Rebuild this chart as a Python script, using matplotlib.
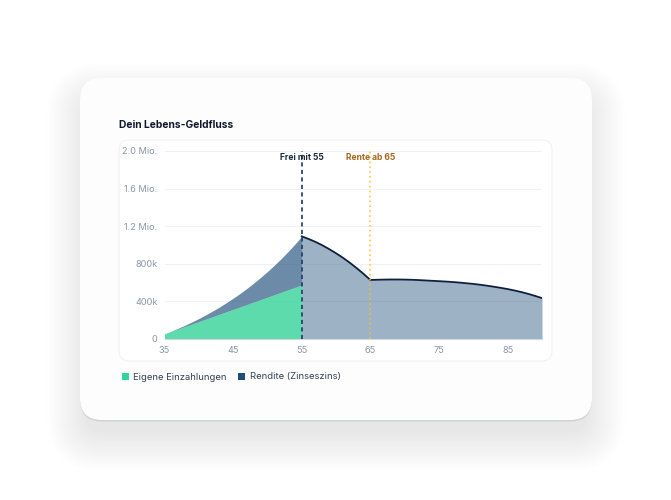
import matplotlib.pyplot as plt
from matplotlib.patches import FancyBboxPatch, Patch

plt.rcParams['font.family'] = ['Inter', 'DejaVu Sans']

# ages 35..90
ages = list(range(35, 91))

# own contributions until financial freedom (35..55), in EUR
einzahlungen = [55000, 81000, 107000, 133000, 159000, 185000, 211000, 237000,
                263000, 289000, 315000, 341000, 367000, 393000, 419000, 445000,
                471000, 497000, 523000, 549000, 575000]

# total wealth (35..90), in EUR
vermoegen = [55000, 84000, 115000, 147000, 182000, 218000, 257000, 297000,
             340000, 386000, 434000, 484000, 538000, 595000, 655000, 718000,
             785000, 855000, 930000, 1009000, 1092000,
             1064000, 1033000, 997000, 956000, 912000, 864000, 811000, 754000,
             693000, 628000,
             630000, 632000, 633000, 633000, 632000, 630000, 627000, 623000,
             619000, 615000, 611000, 606000, 600000, 593000, 586000, 577000,
             567000, 556000, 544000, 531000, 516000, 499000, 480000, 458000,
             435000]

frei_alter = 55
rente_alter = 65
x_ticks = [35, 45, 55, 65, 75, 85]
y_ticks = [0, 400000, 800000, 1200000, 1600000, 2000000]
y_labels = ['0', '400k', '800k', '1.2 Mio.', '1.6 Mio.', '2.0 Mio.']

green = '#34d399'
blue = '#1e4d7b'
navy = '#0f1f3d'
amber = '#fbbf24'

W, H = 671, 500
fig = plt.figure(figsize=(W / 100, H / 100), dpi=100)
fig.patch.set_facecolor('white')

# background canvas in pixel units for the card
bg = fig.add_axes([0, 0, 1, 1])
bg.set_xlim(0, W)
bg.set_ylim(H, 0)
bg.axis('off')

# soft blurred shadow, shifted down
cx0, cy0, cw, ch, r = 80, 78, 512, 342, 22
for i in range(24):
    g = -6 + i * 1.7
    rr = max(r + g, 2)
    bg.add_patch(FancyBboxPatch((cx0 - g + rr, cy0 + 18 - g + rr),
                                cw + 2 * g - 2 * rr, ch + 2 * g - 2 * rr,
                                boxstyle='round,pad=%.1f' % rr, fc='#0f172a',
                                ec='none', alpha=0.0042))
# tight contact shadow
bg.add_patch(FancyBboxPatch((cx0 + r, cy0 + 1.5 + r), cw - 2 * r, ch - 2 * r,
                            boxstyle='round,pad=%d' % r, fc='#64748b',
                            ec='none', alpha=0.18))
# card
bg.add_patch(FancyBboxPatch((cx0 + r, cy0 + r), cw - 2 * r, ch - 2 * r,
                            boxstyle='round,pad=%d' % r, fc='#fdfdfe',
                            ec='none'))
# inner chart panel
bg.add_patch(FancyBboxPatch((119 + 10, 140 + 10), 433 - 20, 221 - 20,
                            boxstyle='round,pad=10', fc='white',
                            ec='#eef2f6', lw=0.8))

bg.text(119, 125, 'Dein Lebens-Geldfluss', fontsize=7.4, fontweight='bold',
        color='#0f172a', va='center', ha='left')

ax = fig.add_axes([164.5 / W, 1 - 339 / H, (542 - 164.5) / W, 188 / H])
ax.patch.set_alpha(0)

n_pre = len(einzahlungen)
ages_pre = ages[:n_pre]
ages_post = ages[n_pre - 1:]
ax.fill_between(ages_pre, 0, einzahlungen, color=green, alpha=0.8, lw=0, zorder=2)
ax.fill_between(ages_pre, einzahlungen, vermoegen[:n_pre], color=blue,
                alpha=0.65, lw=0, zorder=2)
ax.fill_between(ages_post, 0, vermoegen[n_pre - 1:], color=blue, alpha=0.43,
                lw=0, zorder=2)
ax.plot(ages_post, vermoegen[n_pre - 1:], color=navy, lw=1.3, zorder=3)

ax.axvline(frei_alter, color='#1e3a5f', lw=1.2, ls=(0, (2.5, 2)), zorder=4)
ax.axvline(rente_alter, color=amber, lw=1.1, ls=(0, (1, 2.2)), zorder=4)
ax.text(frei_alter, 1.935e6, 'Frei mit 55', fontsize=6.1, fontweight='bold',
        color='#1e293b', ha='center', va='center', zorder=5)
ax.text(rente_alter, 1.935e6, 'Rente ab 65', fontsize=6.1, fontweight='bold',
        color='#a5671b', ha='center', va='center', zorder=5)

ax.set_xlim(35, 90)
ax.set_ylim(0, 2000000)
ax.set_xticks(x_ticks)
ax.set_yticks(y_ticks)
ax.set_yticklabels(y_labels)
ax.tick_params(length=0, labelsize=6.6, colors='#8b95a7', pad=5)
ax.grid(axis='y', color='#eef2f6', lw=0.8, zorder=0)
for s in ['top', 'right', 'left']:
    ax.spines[s].set_visible(False)
ax.spines['bottom'].set_color('#cfd8e3')
ax.spines['bottom'].set_linewidth(0.8)

handles = [Patch(facecolor=green, edgecolor='none', label='Eigene Einzahlungen'),
           Patch(facecolor=blue, edgecolor='none', label='Rendite (Zinseszins)')]
fig.legend(handles=handles, loc='center left',
           bbox_to_anchor=(113 / W, 1 - 377 / H), ncol=2, frameon=False,
           fontsize=6.8, handlelength=0.75, handleheight=0.75,
           handletextpad=0.5, columnspacing=1.2, labelcolor='#334155')

fig.savefig('out.png', dpi=100, facecolor='white')
